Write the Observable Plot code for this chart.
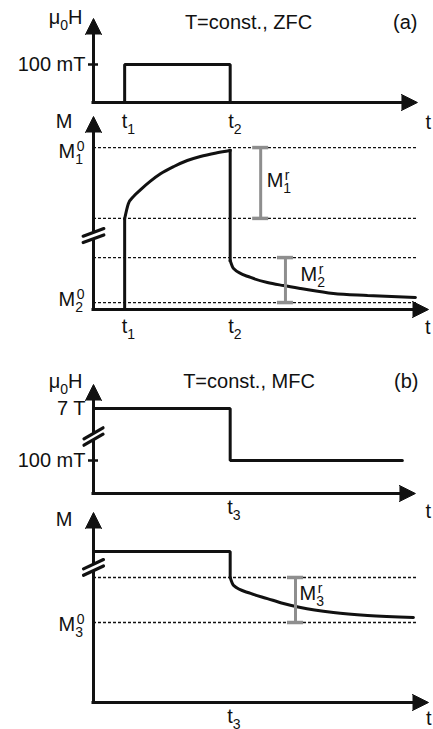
<!DOCTYPE html>
<html><head><meta charset="utf-8">
<script src="https://cdn.jsdelivr.net/npm/d3@7"></script>
<script src="https://cdn.jsdelivr.net/npm/@observablehq/plot@0.6"></script>
<style>
body{margin:0;background:#fff;}
#fig{position:relative;width:433px;height:729px;overflow:hidden;}
#fig svg{position:absolute;left:0;overflow:visible;background:transparent;}
</style></head><body><div id="fig"></div>
<script>
// ---------- data (schematic units: time 0–100, display level per panel) ----------
const t1 = 9.3, t2 = 40.8, t3 = 40.8;
const axisEnd = [96.7, 100, 96.1, 100];   // x-arrow end per panel (a-H, a-M, b-H, b-M)
const dashEnd = 96.7;

// (a) field pulse, ZFC
const aTop = 221;                 // mT at arrow tip
const aTicks = [100];             // mT
const aTickLabels = ["100 mT"];
const aPulseT = [t1, t1, t2, t2];
const aPulseH = [0, 100, 100, 0];

// (a) magnetisation, ZFC
const bTop = 100;
const bDashed = [83.9, 47.2, 26.9, 3.6];       // M1^0, start, M2 upper, M2^0
const bBreak = 38.3;
const bRiseT = [9.3, 10.4, 11.9, 14.0, 17.0, 20.0, 24.0, 28.0, 31.9, 36.9, 40.8];
const bRiseM = [47.0, 54.8, 58.5, 62.0, 66.5, 70.3, 74.1, 77.2, 79.3, 81.2, 82.4];
const bDecayT = [40.8, 41.8, 46.9, 51.9, 56.7, 61.8, 71.6, 81.8, 96.1];
const bDecayM = [25.4, 21.2, 16.6, 14.0, 12.4, 10.9, 8.3, 7.3, 6.2];
const bBarT = [49.9, 57.3];
const bBarHi = [83.9, 26.9];
const bBarLo = [47.2, 3.6];
const bBarLabels = ["M_{1}^{r}", "M_{2}^{r}"];

// (b) field step, MFC
const cTop = 109;
const cLevels = [85, 33];               // 7 T, 100 mT (display positions, broken axis)
const cLevelLabels = ["7 T", "100 mT"];
const cBreak = 57;
const cStepT = [0, t3, t3, 92.2];
const cStepH = [85, 85, 33, 33];

// (b) magnetisation, MFC
const dTop = 100;
const dDashed = [65.8, 42.1];
const dBreak = 71.1;
const dStepT = [0, t3, t3];
const dStepM = [79.5, 79.5, 65.8];
const dDecayT = [40.8, 41.8, 46.9, 51.9, 56.7, 61.8, 71.6, 81.8, 95.5];
const dDecayM = [65.8, 61.6, 57.4, 54.7, 52.1, 50.0, 47.4, 45.8, 44.7];
const dBarT = [60.3];
const dBarHi = [65.8];
const dBarLo = [42.1];

// ---------- helpers ----------
const INK = "#111";
const GRAY = "#8e8e8e";
const FONT = "'Liberation Sans', Arial, Helvetica, sans-serif";
const zip = (xs, ys) => xs.map((x, i) => ({x, y: ys[i]}));
const segShape = {draw(ctx, l) { ctx.moveTo(0, 0); ctx.lineTo(0, -l); }};

function make(height, top, mt, mb, marks) {
  return Plot.plot({
    width: 433, height, marginLeft: 93, marginRight: 5, marginTop: mt, marginBottom: mb,
    x: {domain: [0, 100], axis: null},
    y: {domain: [0, top], axis: null},
    style: {fontFamily: FONT, fontSize: "20px", background: "transparent", overflow: "visible", color: INK},
    marks
  });
}
function axes(xEnd, yTop) {
  return [
    Plot.ruleX([0], {y1: yTop, y2: 0, stroke: INK, strokeWidth: 3, insetTop: 10, insetBottom: -1.5}),
    Plot.ruleY([0], {x1: 0, x2: xEnd, stroke: INK, strokeWidth: 3, insetRight: 10, insetLeft: -1.5}),
    Plot.vector([0], {x: () => 0, y: () => yTop, shape: "spike", length: 16, r: 8, anchor: "end", fill: INK, stroke: INK, strokeWidth: 1}),
    Plot.vector([0], {x: () => xEnd, y: () => 0, rotate: 90, shape: "spike", length: 16, r: 8, anchor: "end", fill: INK, stroke: INK, strokeWidth: 1})
  ];
}
function brk(y, angle) {
  return [
    Plot.vector([0], {x: () => 0, y: () => y, rotate: angle, shape: segShape, length: 16, anchor: "middle", stroke: "white", strokeWidth: 5}),
    Plot.vector([0], {x: () => 0, y: () => y, rotate: angle, shape: segShape, length: 22, anchor: "middle", stroke: INK, strokeWidth: 3.2, dy: -3.2}),
    Plot.vector([0], {x: () => 0, y: () => y, rotate: angle, shape: segShape, length: 22, anchor: "middle", stroke: INK, strokeWidth: 3.2, dy: 3.2})
  ];
}
function label(text, x, y, o = {}) {
  return Plot.text([0], {x: () => x, y: () => y, text: () => text, fill: INK, fontSize: 20, lineAnchor: "bottom", ...o});
}
function frameLabel(text, frameAnchor, o = {}) {
  return Plot.text([0], {frameAnchor, text: () => text, fill: INK, fontSize: 20, lineAnchor: "bottom", ...o});
}
function bars(T, Hi, Lo, labels, offs) {
  const data = T.map((t, i) => ({t, hi: Hi[i], lo: Lo[i], mid: (Hi[i] + Lo[i]) / 2, label: labels[i]}));
  const caps = data.flatMap(d => [{t: d.t, y: d.hi}, {t: d.t, y: d.lo}]);
  return [
    Plot.ruleX(data, {x: "t", y1: "hi", y2: "lo", stroke: GRAY, strokeWidth: 3}),
    Plot.ruleY(caps, {y: "y", x1: "t", x2: "t", insetLeft: -8, insetRight: -8, stroke: GRAY, strokeWidth: 3.5}),
    ...data.map((d, i) => label(d.label, d.t, d.mid, {textAnchor: "start", dx: offs[i][0], dy: offs[i][1]}))
  ];
}
const lineStyle = {stroke: INK, strokeWidth: 3, strokeLinejoin: "miter"};

// ---------- panels ----------
const A = make(140, aTop, 18, 38, [
  Plot.line(zip(aPulseT, aPulseH), {x: "x", y: "y", ...lineStyle}),
  ...axes(axisEnd[0], aTop),
  Plot.ruleY(aTicks, {x1: 0, x2: 0, insetLeft: -5, insetRight: -5, stroke: INK, strokeWidth: 2.5}),
  Plot.text(aTicks, {x: () => 0, y: d => d, text: (d, i) => aTickLabels[i], textAnchor: "end", dx: -8, fontSize: 20, fill: INK}),
  label("μ_{0}H", 0, aTop, {textAnchor: "end", dx: -11, dy: 5}),
  frameLabel("T=const., ZFC", "top", {dx: -12.5, dy: 10}),
  frameLabel("(a)", "top-right", {textAnchor: "end", dx: -11, dy: 10}),
  label("t_{1}", t1, 0, {textAnchor: "start", dx: -3, dy: 25}),
  label("t_{2}", t2, 0, {textAnchor: "start", dx: -2, dy: 25}),
  label("t", axisEnd[0], 0, {textAnchor: "start", dx: 8, dy: 26})
]);

const B = make(245, bTop, 6, 46, [
  Plot.ruleY(bDashed, {x1: 0, x2: dashEnd, stroke: INK, strokeWidth: 1.3, strokeDasharray: "3,2"}),
  Plot.line([{x: t1, y: 0}, {x: t1, y: bRiseM[0]}], {x: "x", y: "y", ...lineStyle}),
  Plot.line(zip(bRiseT, bRiseM), {x: "x", y: "y", curve: "monotone-x", ...lineStyle, strokeLinecap: "round"}),
  Plot.line([{x: t2, y: bRiseM[bRiseM.length - 1]}, {x: t2, y: bDecayM[0]}], {x: "x", y: "y", ...lineStyle, strokeLinecap: "square"}),
  Plot.line(zip(bDecayT, bDecayM), {x: "x", y: "y", curve: "monotone-x", ...lineStyle, strokeLinecap: "round"}),
  ...bars(bBarT, bBarHi, bBarLo, bBarLabels, [[6, 4.5], [15, 0.5]]),
  ...axes(axisEnd[1], bTop),
  ...brk(bBreak, 70),
  label("M", 0, bTop, {textAnchor: "end", dx: -21, dy: 11}),
  label("M_{1}^{0}", 0, bDashed[0], {textAnchor: "end", dx: -9, dy: 10}),
  label("M_{2}^{0}", 0, bDashed[3], {textAnchor: "end", dx: -9, dy: 3}),
  label("t_{1}", t1, 0, {textAnchor: "start", dx: -3, dy: 23}),
  label("t_{2}", t2, 0, {textAnchor: "start", dx: -2, dy: 23}),
  label("t", axisEnd[1], 0, {textAnchor: "end", dx: 2, dy: 24})
]);

const C = make(170, cTop, 29, 32, [
  Plot.line(zip(cStepT, cStepH), {x: "x", y: "y", ...lineStyle}),
  ...axes(axisEnd[2], cTop),
  ...brk(cBreak, 60),
  Plot.ruleY([cLevels[1]], {x1: 0, x2: 0, insetLeft: -5, insetRight: -5, stroke: INK, strokeWidth: 2.5}),
  Plot.text(cLevels, {x: () => 0, y: d => d, text: (d, i) => cLevelLabels[i], textAnchor: "end", dx: -8, fontSize: 20, fill: INK}),
  label("μ_{0}H", 0, cTop, {textAnchor: "end", dx: -11, dy: 3}),
  frameLabel("T=const., MFC", "top", {dx: -12, dy: 3}),
  frameLabel("(b)", "top-right", {textAnchor: "end", dx: -10, dy: 3}),
  label("t_{3}", t3, 0, {textAnchor: "start", dx: -3, dy: 20}),
  label("t", axisEnd[2], 0, {textAnchor: "start", dx: 10, dy: 24})
]);

const D = make(224, dTop, 7, 27, [
  Plot.ruleY(dDashed, {x1: 0, x2: dashEnd, stroke: INK, strokeWidth: 1.3, strokeDasharray: "3,2"}),
  Plot.line(zip(dStepT, dStepM), {x: "x", y: "y", ...lineStyle}),
  Plot.line(zip(dDecayT, dDecayM), {x: "x", y: "y", curve: "monotone-x", ...lineStyle, strokeLinecap: "round"}),
  ...bars(dBarT, dBarHi, dBarLo, ["M_{3}^{r}"], [[4, 0.5]]),
  ...axes(axisEnd[3], dTop),
  ...brk(dBreak, 65),
  label("M", 0, dTop, {textAnchor: "end", dx: -21, dy: 13}),
  label("M_{3}^{0}", 0, dDashed[1], {textAnchor: "end", dx: -9, dy: 8}),
  label("t_{3}", t3, 0, {textAnchor: "start", dx: -3, dy: 20}),
  label("t", axisEnd[3], 0, {textAnchor: "end", dx: 3, dy: 22})
]);

const fig = document.getElementById("fig");
[[A, 0], [B, 110], [C, 355], [D, 505]].forEach(([svg, top]) => {
  svg.style.top = top + "px";
  fig.appendChild(svg);
});

// sub/superscript rendering for labels like M_{1}^{0}
const NS = "http://www.w3.org/2000/svg";
const SUB = 14, SUBDY = 6, SUPDY = -7;
for (const el of fig.querySelectorAll("text")) {
  const s = el.textContent;
  if (!/[_^]\{/.test(s)) continue;
  el.textContent = "";
  const re = /_\{([^}]*)\}|\^\{([^}]*)\}|([^_^]+)/g;
  let m, shift = 0, prevSub = null;
  while ((m = re.exec(s))) {
    const ts = document.createElementNS(NS, "tspan");
    if (m[3] != null) {
      ts.textContent = m[3];
      if (shift) ts.setAttribute("dy", -shift);
      shift = 0; prevSub = null;
      el.appendChild(ts);
    } else if (m[1] != null) {
      ts.textContent = m[1];
      ts.setAttribute("font-size", SUB);
      ts.setAttribute("dy", SUBDY - shift);
      shift = SUBDY;
      el.appendChild(ts);
      prevSub = ts;
    } else {
      ts.textContent = m[2];
      ts.setAttribute("font-size", SUB);
      ts.setAttribute("dy", SUPDY - shift);
      if (prevSub) ts.setAttribute("dx", -prevSub.getComputedTextLength() + 1.5);
      shift = SUPDY;
      el.appendChild(ts);
      prevSub = null;
    }
  }
}
</script></body></html>
